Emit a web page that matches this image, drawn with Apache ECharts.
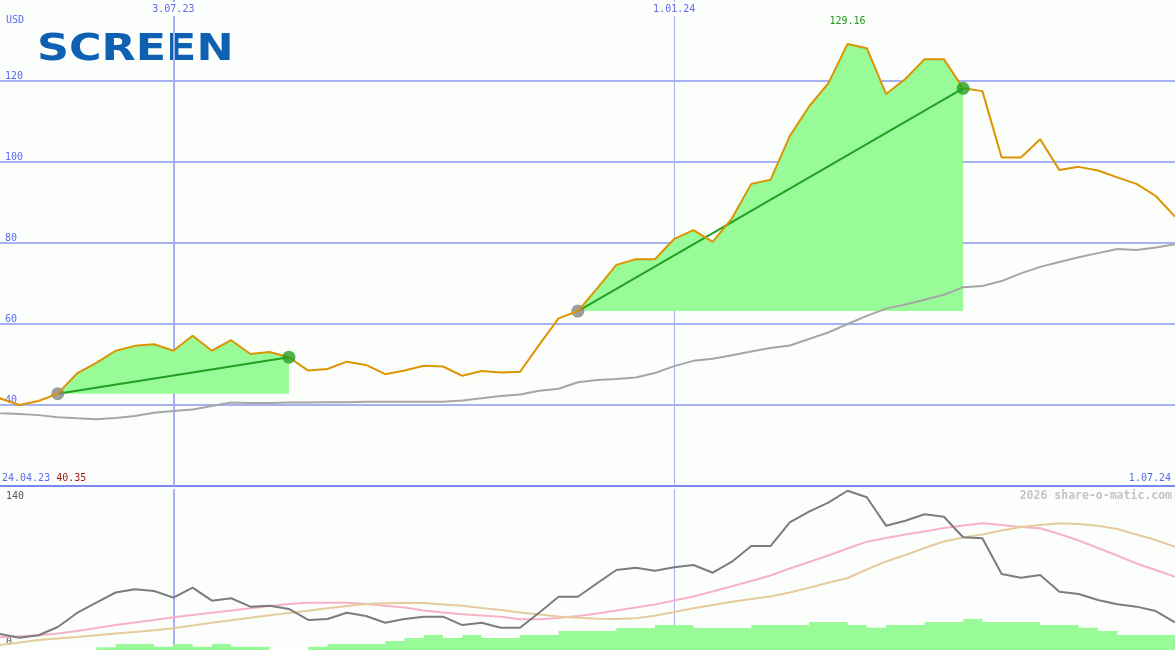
<!DOCTYPE html>
<html><head><meta charset="utf-8">
<script src="https://cdn.jsdelivr.net/npm/echarts@6/dist/echarts.min.js"></script>
<style>html,body{margin:0;padding:0;background:#fcfefc}#c{width:1175px;height:650px}</style>
</head><body><div id="c"></div>
<script>
// ---- data (weekly, week index 0 = 24.04.23, 62 = 1.07.24) ----
const startDate = '24.04.23';
const endDate = '1.07.24';
const startPrice = '40.35';
const tickWeeks = [10, 36];
const tickLabels = ['3.07.23', '1.01.24'];
const priceUSD = [40.35, 41.65, 40.0, 41.0, 42.8, 47.8, 50.4, 53.4, 54.6, 55.0,
  53.4, 57.1, 53.4, 56.0, 52.6, 53.1, 51.8, 48.5, 48.9, 50.7,
  49.9, 47.6, 48.5, 49.7, 49.5, 47.2, 48.4, 48.0, 48.2, 54.9,
  61.4, 63.2, 68.8, 74.6, 76.0, 76.0, 81.0, 83.2, 80.3, 86.1,
  94.6, 95.6, 106.4, 113.7, 119.4, 129.16, 128.1, 116.8, 120.5, 125.4,
  125.4, 118.2, 117.5, 101.1, 101.1, 105.6, 98.0, 98.8, 97.9, 96.2,
  94.6, 91.6, 86.5];
const ma200 = [38.3, 37.95, 37.8, 37.5, 37.0, 36.7, 36.5, 36.8, 37.3, 38.1,
  38.5, 38.9, 39.75, 40.6, 40.5, 40.5, 40.6, 40.6, 40.7, 40.7,
  40.8, 40.8, 40.8, 40.8, 40.8, 41.1, 41.65, 42.2, 42.6, 43.5,
  44.0, 45.6, 46.2, 46.4, 46.8, 47.9, 49.6, 50.9, 51.4, 52.3,
  53.2, 54.1, 54.7, 56.3, 57.9, 60.0, 62.0, 63.8, 64.8, 66.0,
  67.2, 69.1, 69.4, 70.6, 72.5, 74.1, 75.3, 76.5, 77.5, 78.5,
  78.3, 78.9, 79.7];
const trendSegments = [[4, 16], [31, 51]];
// lower panel (0..140 scale)
const lowerLine = [15.7, 13.9, 10.7, 12.8, 20.0, 32.2, 41.1, 50.0, 52.8, 51.3,
  45.5, 54.2, 42.9, 45.0, 37.7, 38.5, 35.7, 26.1, 27.0, 32.4,
  29.6, 23.7, 27.0, 29.0, 29.0, 21.7, 23.7, 19.4, 19.4, 32.6,
  46.3, 46.3, 58.0, 69.6, 71.6, 69.0, 71.9, 73.9, 67.2, 76.8,
  90.4, 90.4, 110.9, 120.3, 128.1, 138.5, 132.8, 108.1, 112.4, 118.0,
  115.9, 98.0, 97.1, 66.1, 62.9, 65.2, 50.7, 48.7, 43.5, 39.7,
  37.7, 33.9, 24.1];
const lowerPink = [10.0, 11.0, 11.9, 12.8, 14.3, 16.5, 19.1, 21.7, 23.9, 26.1,
  28.4, 30.4, 32.4, 34.3, 36.3, 38.3, 40.0, 41.1, 41.1, 41.1,
  40.0, 38.5, 37.0, 34.3, 32.6, 31.1, 30.0, 28.9, 26.7, 26.7,
  27.8, 29.6, 31.7, 34.3, 37.0, 39.6, 43.0, 46.5, 50.9, 55.4,
  60.0, 64.8, 70.9, 76.5, 82.2, 88.3, 94.2, 97.4, 100.4, 103.0,
  106.1, 108.3, 110.2, 108.7, 107.0, 105.8, 100.9, 95.2, 88.7, 82.2,
  75.2, 69.6, 63.7];
const lowerTan = [2.6, 4.3, 6.5, 8.7, 10.0, 11.3, 12.9, 14.3, 15.7, 17.1,
  19.0, 21.3, 23.7, 25.8, 28.0, 30.2, 32.2, 34.2, 36.3, 38.3,
  40.0, 40.7, 41.1, 40.9, 39.6, 38.5, 36.5, 34.8, 32.6, 30.9,
  29.1, 28.0, 27.1, 27.0, 27.7, 29.8, 33.0, 36.3, 39.1, 41.9,
  44.3, 46.5, 50.0, 54.2, 58.5, 62.6, 70.0, 77.0, 82.6, 88.7,
  94.3, 97.8, 100.4, 103.9, 107.0, 108.7, 110.2, 109.6, 108.1, 105.2,
  100.4, 95.7, 89.8];
const volume = [0, 0, 0, 0, 0, 0, 2.7, 6, 6, 3.3,
  6, 3.3, 6, 3.3, 3.3, 0, 0, 3.3, 6, 6,
  6, 9, 12, 15, 12, 15, 12, 12, 15, 15,
  19, 19, 19, 22, 22, 25, 25, 22, 22, 22,
  25, 25, 25, 28, 28, 25, 22.3, 25, 25, 28,
  28, 31, 28, 28, 28, 25, 25, 22.3, 19, 15,
  15, 15, 15];
const lowerTicks = [0, 140];

// ---- styles ----
const MONO = '"DejaVu Sans Mono", monospace';
const BG = '#fcfefc';
const BLUE = '#5a6af0';
const GRIDC = '#a8b0f4';
const vLineWidths = [2, 1];
const idx = a => a.map((v, i) => [i, v]);
const X_MIN = 1, X_MAX = 62; // visible window in weeks

const chart = echarts.init(document.getElementById('c'), null, {renderer: 'canvas'});

const series = [];
series.push({
  type: 'line', xAxisIndex: 0, yAxisIndex: 0, data: idx(ma200), showSymbol: false, z: 3,
  lineStyle: {color: '#a6a6a6', width: 2}, silent: true,
  markLine: {silent: true, symbol: 'none', z: 1, label: {show: false},
    data: tickWeeks.map((w, i) => ({xAxis: w, lineStyle: {color: GRIDC, width: vLineWidths[i], type: 'solid'}}))}
});
trendSegments.forEach(([a, b]) => {
  const seg = priceUSD.slice(a, b + 1).map((v, i) => [a + i, v]);
  series.push({
    type: 'line', xAxisIndex: 0, yAxisIndex: 0, data: seg, showSymbol: false, z: 2, silent: true,
    lineStyle: {width: 0, opacity: 0},
    areaStyle: {color: '#98fb98', opacity: 1, origin: priceUSD[a]}
  });
  series.push({
    type: 'line', xAxisIndex: 0, yAxisIndex: 0, data: [[a, priceUSD[a]], [b, priceUSD[b]]],
    showSymbol: false, z: 4, silent: true, lineStyle: {color: '#22a022', width: 2}
  });
  series.push({
    type: 'scatter', xAxisIndex: 0, yAxisIndex: 0, data: [[a, priceUSD[a]]], z: 4, silent: true,
    symbolSize: 13, itemStyle: {color: '#858585'}
  });
  series.push({
    type: 'scatter', xAxisIndex: 0, yAxisIndex: 0, data: [[b, priceUSD[b]]], z: 6, silent: true,
    symbolSize: 13, itemStyle: {color: '#22a022'}
  });
});
series.push({
  type: 'line', xAxisIndex: 0, yAxisIndex: 0, data: idx(priceUSD), showSymbol: false, z: 5, silent: true,
  lineStyle: {color: '#dc9400', width: 2},
  markPoint: {symbol: 'circle', symbolSize: 0, silent: true,
    data: [{type: 'max'}],
    label: {show: true, position: 'inside', offset: [0, -22], formatter: p => p.value,
      color: '#229922', fontFamily: MONO, fontSize: 10}}
});
series.push({
  type: 'line', xAxisIndex: 2, yAxisIndex: 1, data: idx(lowerLine), showSymbol: false, z: 5, silent: true,
  lineStyle: {color: '#7c7c7c', width: 2},
  markLine: {silent: true, symbol: 'none', z: 1, label: {show: false},
    data: tickWeeks.map((w, i) => ({xAxis: w, lineStyle: {color: GRIDC, width: vLineWidths[i], type: 'solid'}}))}
});
series.push({
  type: 'line', xAxisIndex: 2, yAxisIndex: 1, data: idx(lowerPink), showSymbol: false, z: 4, silent: true,
  lineStyle: {color: '#f8b2c8', width: 2}
});
series.push({
  type: 'line', xAxisIndex: 2, yAxisIndex: 1, data: idx(lowerTan), showSymbol: false, z: 4, silent: true,
  lineStyle: {color: '#e4cc9e', width: 2}
});
series.push({
  type: 'line', xAxisIndex: 2, yAxisIndex: 2, data: idx(volume), step: 'end', showSymbol: false, z: 6, silent: true,
  lineStyle: {width: 0, opacity: 0},
  areaStyle: {color: '#98fb98', opacity: 1, origin: 'start'}
});

const option = {
  backgroundColor: BG,
  animation: false,
  grid: [
    {left: 0, right: 0, top: 0, height: 486},
    {left: 0, right: 0, top: 489, bottom: 0}
  ],
  xAxis: [
    {gridIndex: 0, type: 'value', min: X_MIN, max: X_MAX, position: 'bottom',
      axisLine: {show: true, onZero: false, lineStyle: {color: '#7888f0', width: 2}},
      axisTick: {show: false}, axisLabel: {show: false}, splitLine: {show: false}},
    {gridIndex: 0, type: 'value', min: X_MIN, max: X_MAX, position: 'top', z: 10,
      axisLine: {show: false}, axisTick: {show: false}, splitLine: {show: false},
      axisLabel: {show: true, inside: true, customValues: tickWeeks,
        formatter: v => tickLabels[tickWeeks.indexOf(v)],
        backgroundColor: BG, padding: [2, 2, 2, 2],
        color: BLUE, fontFamily: MONO, fontSize: 10, margin: 2}},
    {gridIndex: 1, type: 'value', min: X_MIN, max: X_MAX, show: false}
  ],
  yAxis: [
    {gridIndex: 0, type: 'value', min: 20, max: 140, interval: 20,
      axisLine: {show: false}, axisTick: {show: false},
      splitLine: {show: true, showMinLine: false, showMaxLine: false, lineStyle: {color: GRIDC, width: 2}},
      axisLabel: {inside: true, margin: 5, showMinLabel: false, showMaxLabel: false,
        verticalAlign: 'bottom', color: BLUE, fontFamily: MONO, fontSize: 10}},
    {gridIndex: 1, type: 'value', min: lowerTicks[0], max: lowerTicks[1], interval: lowerTicks[1] - lowerTicks[0],
      axisLine: {show: false}, axisTick: {show: false}, splitLine: {show: false},
      axisLabel: {inside: true, margin: 6, showMinLabel: true, showMaxLabel: true,
        color: '#555555', fontFamily: MONO, fontSize: 10,
        formatter: v => v === lowerTicks[1] ? '{t|' + v + '}' : '{b|' + v + '}',
        rich: {t: {padding: [14, 0, 0, 0], color: '#555555', fontFamily: MONO, fontSize: 10},
               b: {padding: [0, 0, 15, 0], color: '#555555', fontFamily: MONO, fontSize: 10}}}},
    {gridIndex: 1, type: 'value', min: 0, max: 161, show: false}
  ],
  graphic: [
    {type: 'text', x: 6, y: 20, silent: true,
      style: {text: 'USD', fill: BLUE, fontFamily: MONO, fontSize: 10, verticalAlign: 'middle'}},
    {type: 'text', x: 37, y: 50, scaleX: 1.2, silent: true,
      style: {text: 'SCREEN', fill: '#0d60b2', fontFamily: '"DejaVu Sans", sans-serif', fontWeight: 'bold',
        fontSize: 37, verticalAlign: 'middle'}},
    {type: 'text', x: 2, y: 478, silent: true,
      style: {text: '{d|' + startDate + '} {p|' + startPrice + '}', verticalAlign: 'middle',
        fontFamily: MONO, fontSize: 10,
        rich: {d: {fill: BLUE, fontFamily: MONO, fontSize: 10}, p: {fill: '#a01c1c', fontFamily: MONO, fontSize: 10}}}},
    {type: 'text', x: 1171, y: 478, silent: true,
      style: {text: endDate, fill: BLUE, fontFamily: MONO, fontSize: 10, align: 'right', verticalAlign: 'middle'}},
    {type: 'text', x: 1172, y: 496, silent: true,
      style: {text: '2026 share-o-matic.com', fill: '#c4c4c4', fontFamily: MONO, fontWeight: 'bold',
        fontSize: 11.5, align: 'right', verticalAlign: 'middle'}}
  ],
  series: series
};
chart.setOption(option);
</script>
</body></html>
